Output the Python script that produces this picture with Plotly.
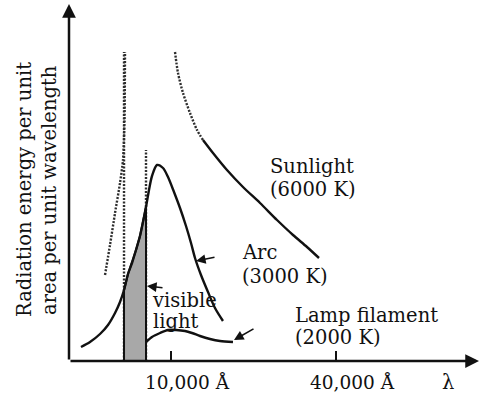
import numpy as np
import plotly.graph_objects as go

# ---- data: wavelength (Å) and relative radiated energy (arbitrary units) ----
sun_rise_wl = [5744, 5990, 6248, 6515, 6681, 6766, 6794]
sun_rise_e = [0.86, 1.16, 1.48, 1.78, 2.01, 2.41, 3.09]
sun_fall_dot_wl = [10342, 10606, 11062, 11731, 12442, 13083]
sun_fall_dot_e = [3.09, 2.88, 2.68, 2.48, 2.31, 2.21]
sun_wl = [13083, 14230, 16005, 18309, 21124, 24368, 27874, 31347, 34675]
sun_e = [2.21, 2.08, 1.91, 1.74, 1.58, 1.41, 1.26, 1.14, 1.03]

arc_wl = [4694, 5063, 5507, 5890, 6248, 6515, 6738, 6968, 7207, 7451, 7706, 7903,
          8105, 8312, 8524, 8890, 9350, 9751, 10255, 10785, 11343, 11830, 12234,
          12865, 13645, 14471, 15476]
arc_e = [0.14, 0.19, 0.27, 0.36, 0.48, 0.59, 0.71, 0.87, 0.98, 1.11, 1.25, 1.39,
         1.54, 1.71, 1.85, 1.96, 1.93, 1.84, 1.69, 1.53, 1.35, 1.18, 1.03,
         0.86, 0.69, 0.53, 0.40]

lamp_wl = [8105, 8524, 9118, 9751, 10429, 11248, 11930, 12758, 13876, 15091, 16833]
lamp_e = [0.19, 0.24, 0.28, 0.31, 0.31, 0.30, 0.28, 0.25, 0.22, 0.20, 0.19]

visible_band = [6738, 8105]
visible_top = [3.09, 2.11]

tick_vals = [10000, 40000]
tick_text = ["10,000 Å", "40,000 Å"]
x_range_wl = [4244, 134130]
y_range_e = [0, 3.57]

# ---- layout helpers ----
W, H = 480, 393
L, R, T, B = 69, 0, 4, 32
PW, PH = W - L - R, H - T - B
FONT = "DejaVu Serif"
INK = "#111111"
FS = 19.5


def paper(px, py):
    return (px - L) / PW, (H - B - py) / PH


fig = go.Figure()

dot = dict(color="#2e2e2e", width=2.4, dash="2px,1.5px")
solid = dict(color=INK, width=2.4)

# visible band boundaries (dotted)
for wl, top in zip(visible_band, visible_top):
    fig.add_trace(go.Scatter(x=[wl, wl], y=[0, top], mode="lines", line=dot))

# shaded visible region under the arc curve
lo, hi = visible_band
lx = np.log10(arc_wl)
top_lo = float(np.interp(np.log10(lo), lx, arc_e))
top_hi = float(np.interp(np.log10(hi), lx, arc_e))
in_w = [w for w in arc_wl if lo < w < hi]
in_e = [e for w, e in zip(arc_wl, arc_e) if lo < w < hi]
fig.add_trace(go.Scatter(
    x=[lo, lo] + in_w + [hi, hi, lo], y=[0, top_lo] + in_e + [top_hi, 0, 0],
    mode="lines", fill="toself", fillcolor="#a8a8a8",
    line=dict(color=INK, width=2)))

# sunlight
fig.add_trace(go.Scatter(x=sun_rise_wl, y=sun_rise_e, mode="lines",
                         line=dict(**dot, shape="spline", smoothing=0.6)))
fig.add_trace(go.Scatter(x=sun_fall_dot_wl, y=sun_fall_dot_e, mode="lines",
                         line=dict(**dot, shape="spline", smoothing=0.8)))
fig.add_trace(go.Scatter(x=sun_wl, y=sun_e, mode="lines",
                         line=dict(**solid, shape="spline", smoothing=0.8)))
# arc
fig.add_trace(go.Scatter(x=arc_wl, y=arc_e, mode="lines",
                         line=dict(**solid, shape="spline", smoothing=0.8)))
# lamp filament
fig.add_trace(go.Scatter(x=lamp_wl, y=lamp_e, mode="lines",
                         line=dict(**solid, shape="spline", smoothing=0.8)))

ann = []


def text(s, px, py, xanchor="left", angle=0):
    x, y = paper(px, py)
    ann.append(dict(text=s, x=x, y=y, xref="paper", yref="paper",
                    xanchor=xanchor, yanchor="middle", showarrow=False,
                    textangle=angle, font=dict(family=FONT, size=FS, color=INK)))


def arrow(hx, hy, tx, ty, width=1.6, size=1.2):
    x, y = paper(hx, hy)
    ann.append(dict(text="", x=x, y=y, xref="paper", yref="paper",
                    ax=tx - hx, ay=ty - hy, showarrow=True, arrowhead=2,
                    arrowsize=size, arrowwidth=width, arrowcolor=INK, standoff=0))


# axes with arrowheads
arrow(L, T, L, H - B, width=2.5, size=1.1)
arrow(W - 1, H - B, L, H - B, width=2.5, size=1.1)

text("Sunlight", 268, 166)
text("(6000 K)", 268, 190)
text("Arc", 240, 252)
text("(3000 K)", 240, 276)
text("visible", 150, 300)
text("light", 151, 321)
text("Lamp filament", 293, 315)
text("(2000 K)", 293, 337)
text("λ", 448, 382, xanchor="center")
text("Radiation energy per unit", 25, 190, xanchor="center", angle=-90)
text("area per unit wavelength", 50, 190, xanchor="center", angle=-90)

arrow(196, 261, 216, 257)
arrow(147, 286, 164, 288)
arrow(234, 340, 255, 328)

fig.update_layout(
    width=W, height=H, margin=dict(l=L, r=R, t=T, b=B),
    paper_bgcolor="white", plot_bgcolor="white", showlegend=False,
    annotations=ann,
    xaxis=dict(type="log", range=list(np.log10(x_range_wl)), tickvals=tick_vals,
               ticktext=tick_text, ticks="inside", ticklen=10, tickwidth=2,
               tickcolor=INK, showgrid=False, zeroline=False, showline=False,
               ticklabelshift=16, ticklabelstandoff=8,
               tickfont=dict(family=FONT, size=18.5, color=INK)),
    yaxis=dict(range=y_range_e, showticklabels=False, ticks="", showgrid=False,
               zeroline=False, showline=False),
)

fig.write_html("out.html", config={"displayModeBar": False},
               post_script="document.body.style.margin='0';")
